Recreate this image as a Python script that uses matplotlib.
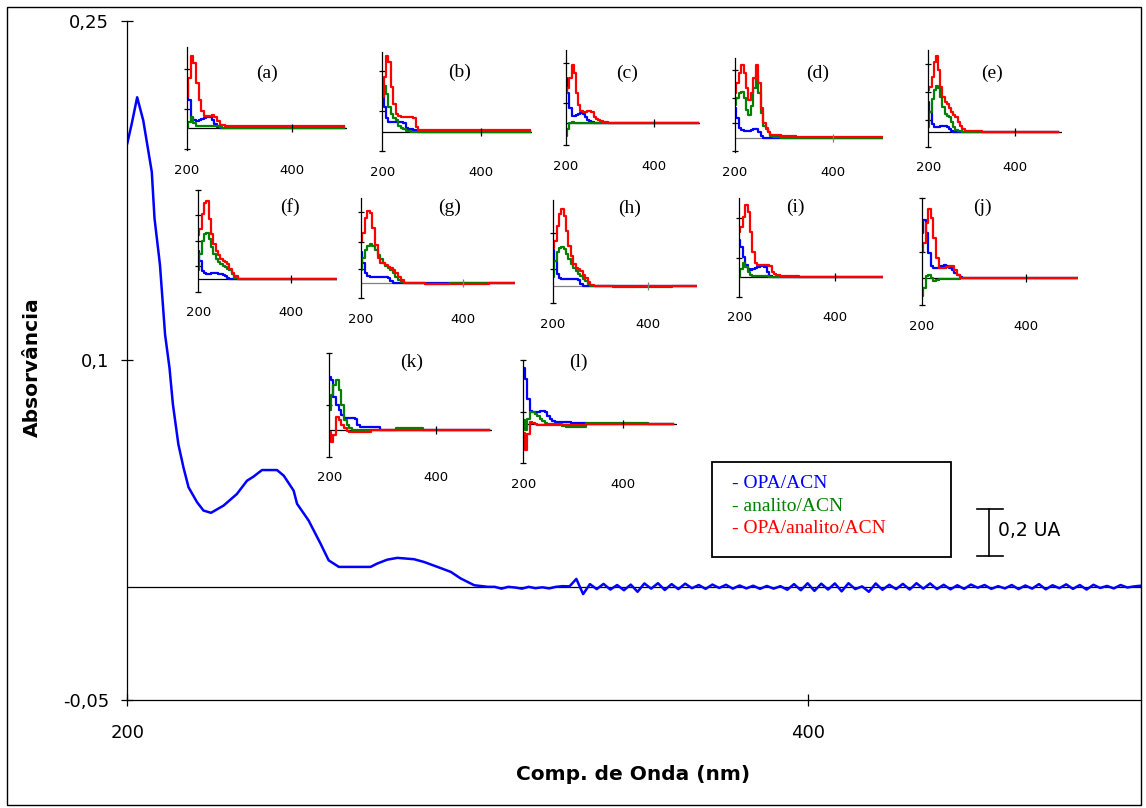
import numpy as np
import matplotlib.pyplot as plt
from matplotlib.patches import Rectangle
from matplotlib.lines import Line2D

plt.rcParams['font.family'] = 'DejaVu Sans'

# ---------------- espectro principal (OPA/ACN) ----------------
wl_main = [200, 201.3, 202.9, 204.7, 207.2, 208.0, 209.6, 211.1, 212.4, 213.4,
           215.0, 216.5, 218.0, 220.5, 222.4, 224.6, 228.3, 232.2, 235.2, 237.1,
           239.6, 244.0, 246.0, 248.9, 249.9, 253.3, 256.8, 259.2, 262.2, 271.5,
           273.5, 276.4, 279.4, 284.3, 287.2, 291.2, 295.1, 298.0, 302.0, 306.0]
abs_main = [0.196, 0.2046, 0.2163, 0.206, 0.1833, 0.1628, 0.1423, 0.1115, 0.0968, 0.0807,
            0.0631, 0.0528, 0.044, 0.0374, 0.0337, 0.0327, 0.0359, 0.041, 0.0469, 0.0487,
            0.0516, 0.0516, 0.0491, 0.0425, 0.0367, 0.0293, 0.0191, 0.0117, 0.0088, 0.0088,
            0.0103, 0.012, 0.0128, 0.0122, 0.011, 0.0088, 0.0066, 0.0037, 0.0007, 0.0]

# ruido da linha de base (mUA), de 308 a 498 nm
wl_ruido = np.arange(308, 499, 2)
ruido_mUA = [0, -0.8, 0, -0.3, -0.8, 0, -0.6, -0.2, -0.7, 0, 0.3, 0.2,
             3.5, -3.2, 1.2, -1.0, 1.3, -1.2, 0.8, -1.5, 1.0, -2.2, 1.5, -0.8,
             1.6, -1.4, 1.2, -1.0, 1.4, -0.6, 0.8, -0.9, 1.0, -0.5, 0.9, -0.8,
             0.6, -0.7, 0.5, -0.9, 0.4, -0.8, 0.3, -1.3, 1.2, -1.5, 1.6, -1.8,
             1.4, -1.2, 1.5, -2.0, 1.6, -1.0, 0.2, -2.2, 1.5, -1.3, 0.9, -1.0,
             1.3, -1.2, 1.6, -0.8, 1.5, -1.0, 0.9, -1.1, 0.7, -0.9, 1.0, -0.4,
             0.8, -0.9, 0.3, -0.7, 0.8, -1.0, 0.6, -0.8, 1.2, -1.1, 0.7, -0.6,
             1.1, -0.9, 0.8, -1.2, 0.9, -0.5, 0.4, -0.7, 0.8, -0.3, 0.2, 0.5]

# ---------------- espectros dos insertos (unidades relativas) ----------------
grade = [200, 205, 210, 215, 220, 225, 230, 235, 240, 245, 250,
         255, 260, 265, 270, 275, 280, 290, 300, 350, 400, 500]

a_azul = [45, 28, 10, 8, 7, 8, 9, 10, 11, 11, 8, 4, 1, 0.5, 0.5, 0.5, 0.5, 0.5, 0.5, 0, 0, 0]
a_verde = [0, 6, 11, 5, 2, 2, 2, 2, 2, 2, 2, 2, 2, 1, 0, 0, 0, 0, 0, 0, 0, 0]
a_verm = [31, 50, 72, 65, 45, 28, 17, 12, 12, 12, 13, 11, 7, 3, 3, 2, 2, 2, 2, 2, 2, 2]

b_azul = [45, 25, 14, 10, 10, 10, 10, 10, 10, 9, 4, 3, 3, 2, 1, 0, 0, 0, 0, 0, 0, 0]
b_verde = [40, 46, 38, 25, 18, 14, 12, 6, 4, 3, 1, 0.5, 0, 0, 0, 0, 0, 0, 0, 0, 0, 0]
b_verm = [35, 55, 76, 70, 45, 28, 18, 16, 15, 15, 15, 15, 15, 14, 5, 2, 1.5, 1.5, 1.5, 1.5, 1.5, 1.5]

c_azul = [45, 30, 15, 7, 7, 8, 9, 10, 9, 6, 3, 2, 1, 0, 0, 0, 0, 0, 0, 0, 0, 0]
c_verde = [-13, -6, 0, 1.6, 0.5, 0.5, 0.5, 0.5, 0.5, 0.5, 0.5, 0, 0, 0, 0, 0, 0, 0, 0, 0, 0, 0]
c_verm = [30, 35, 45, 58, 50, 30, 18, 12, 11, 11, 12, 12.6, 11, 6, 4, 3, 2, 1, 0.5, 0, 0, 0]

d_azul = [30, 20, 10, 8, 7, 7, 7, 8, 9, 9, 6, 2, 0, 0, 0, 0, 0, 0, 0, 0, 0, 0]
d_verde = [33, 40, 45, 46, 40, 28, 23, 32, 50, 63, 45, 25, 12, 9, 6, 2, 1, 1, 0, 0, 0, 0]
d_verm = [45, 55, 65, 73, 65, 50, 38, 45, 60, 73, 55, 30, 15, 10, 6, 3, 3, 3, 2, 1, 1, 1]

e_azul = [30, 20, 8, 5, 5, 5, 6, 6, 6, 5, 3, 1, 0, 0, 0, 0, 0, 0, 0, 0, 0, 0]
e_verde = [5, 20, 33, 42, 46, 44, 35, 25, 18, 16, 15, 10, 5, 2, 1, 0.5, 0, 0, 0, 0, 0, 0]
e_verm = [42, 45, 55, 70, 76, 62, 45, 35, 30, 28, 24, 20, 17, 15, 10, 6, 3, 1, 0.5, 0, 0, 0]

f_azul = [28, 18, 8, 6, 5, 5, 6, 6, 6, 5, 5, 4, 3, 1, 0.5, 0, 0, 0, 0, 0, 0, 0]
f_verde = [9, 25, 38, 45, 46, 40, 32, 25, 20, 17, 15, 13, 12, 10, 9, 5, 1, 0, 0, 0, 0, 0]
f_verm = [44, 50, 65, 76, 78, 60, 45, 35, 28, 24, 20, 18, 17, 15, 10, 6, 3, 0.5, 0, 0, 0, 0]

g_azul = [31, 20, 10, 7, 6, 6, 6, 6, 6, 6, 6, 5, 2, 0.5, 0, 0, 0, 0, 0, 0, 0, 0]
g_verde = [13, 25, 33, 37, 39, 37, 33, 28, 24, 20, 17, 15, 13, 10, 6, 3, 1, 0, 0, -1, 0, 0]
g_verm = [42, 50, 65, 72, 70, 55, 38, 25, 20, 20, 18, 16, 15, 13, 10, 6, 3, 0, 0, -1, -1, 0]

h_azul = [36, 25, 12, 8, 7, 7, 7, 7, 7, 7, 7, 6, 2, 0.5, 0, 0, 0, 0, 0, 0, 0, 0]
h_verde = [9, 25, 34, 38, 39, 37, 32, 27, 22, 18, 15, 12, 10, 7, 5, 2, 0.5, 0, 0, 0, -1, 0]
h_verm = [38, 45, 60, 72, 77, 70, 55, 40, 30, 22, 18, 17, 15, 11, 8, 4, 1, 0, 0, -1, 0, 0]

i_azul = [37, 30, 20, 12, 8, 7, 8, 9, 10, 11, 11, 10, 5, 1, 0, 0, 0, 0, 0, 0, 0, 0]
i_verde = [0, 8, 14, 10, 5, 2, 1, 1, 1, 1, 1, 1, 1, 0.5, 0, 0, 0, 0, 0, 0, 0, 0]
i_verm = [45, 50, 60, 72, 65, 45, 25, 14, 12, 12, 12, 12, 12, 11, 5, 3, 2, 1, 1, 0, 0, 0]

j_azul = [45, 58, 45, 25, 12, 10, 10, 11, 12, 13, 12, 10, 8, 5, 3, 1, 0, 0, 0, 0, 0, 0]
j_verde = [-18, -10, 2, 3, 0, -3, -2, -1, -1, -1, -1, -1, -1, -1, -1, 0, 0, 0, 0, 0, 0, 0]
j_verm = [26, 35, 55, 69, 60, 40, 20, 10, 10, 10, 11, 12, 12, 8, 3, 0.5, 0, 0, 0, 0, 0, 0]

k_azul = [53, 50, 33, 25, 20, 15, 12, 12, 12, 12, 11, 5, 3, 3, 3, 3, 3, 3, 0, 0, 0, 0]
k_verde = [20, 35, 45, 50, 40, 25, 10, 5, 2, 0.5, 0, 0, 0, 0, 0, 0, 0, 0, 0, 2, 0, 0]
k_verm = [-2, -12, -5, 13, 10, 5, 2, -1, -1.7, -1.7, -1.7, -1.7, -1.7, -1.7, -1.7, -1.7, 0, 0, 0, 0, 0, 0]

l_azul = [56, 45, 25, 13, 12, 12, 12, 13, 13, 12, 8, 5, 3, 2, 2, 2, 2, 2, 1, 0, 0, 0]
l_verde = [4, -6, 5, 12, 12, 10, 8, 5, 3, 1, 0, 0, 0, 0, 0, 0, -2, -3, -3, 1, 1, 0]
l_verm = [-9, -26, -10, 2, 1, 0, -1, -1, -1, -1, -1, -1, -1, -1, -1, -1, -1, -1, -1, 0, 0, 0]

series = {
    'a': (a_azul, a_verde, a_verm), 'b': (b_azul, b_verde, b_verm),
    'c': (c_azul, c_verde, c_verm), 'd': (d_azul, d_verde, d_verm),
    'e': (e_azul, e_verde, e_verm), 'f': (f_azul, f_verde, f_verm),
    'g': (g_azul, g_verde, g_verm), 'h': (h_azul, h_verde, h_verm),
    'i': (i_azul, i_verde, i_verm), 'j': (j_azul, j_verde, j_verm),
    'k': (k_azul, k_verde, k_verm), 'l': (l_azul, l_verde, l_verm),
}

# posicao dos insertos em pixels: x200, topo, base, zero, x400, direita, titulo(x, y), ticks y
layout = {
    'a': (186.7, 47, 150, 128.3, 291.7, 347, (266.7, 73), [59, 19.3, -20.7]),
    'b': (382.3, 51.7, 151, 131.7, 481, 532, (460, 72), [61, 20.7, -19.3]),
    'c': (566, 50, 145, 123.3, 654, 700, (626.7, 73), [60.6, 20.6, -21.7]),
    'd': (735, 58.3, 151.7, 138.3, 832.7, 883, (818, 73), [68, 40, 15, -13]),
    'e': (928.3, 50, 146.7, 131.7, 1015, 1061.7, (992, 73), [67.7, 40, 11.7, -15]),
    'f': (198.3, 190, 291.7, 279.3, 290.7, 336.7, (290, 207), [89.3, 64.3, 38.3, 13.3, -12.4]),
    'g': (361, 198.3, 298.3, 283.3, 463, 515, (450, 207), [71.6, 41.6, 14, -15]),
    'h': (553, 200, 303.3, 286, 648.3, 696.7, (630, 208), [52.7, 16.7, -17.3]),
    'i': (739.3, 198.3, 296.7, 277.3, 835, 883.3, (795, 207), [59, 19, -19.4]),
    'j': (921.7, 198.3, 305, 278.3, 1026, 1078.3, (982, 207), [80, 26.6, -26.7]),
    'k': (329.3, 353.3, 456.7, 430, 436, 491.7, (411.7, 362), [76.7, 25, -26.7]),
    'l': (523.3, 360, 463.3, 424, 623.3, 676.7, (578.3, 362), [64, 12.3, -39.3]),
}

W, H = 1146, 808
fig = plt.figure(figsize=(W / 100, H / 100), dpi=100)


def fx(x):
    return x / W


def fy(y):
    return 1 - y / H


# moldura externa
fig.patches.append(Rectangle((fx(7), fy(805)), fx(1141) - fx(7), fy(7) - fy(805),
                             transform=fig.transFigure, fill=False, lw=1, color='black'))

# grafico principal
L, T, R, B = 127.3, 21, 1141, 700
ax = fig.add_axes([fx(L), fy(B), fx(R) - fx(L), fy(T) - fy(B)])
ax.patch.set_alpha(0)
wl = np.concatenate([wl_main, wl_ruido])
ab = np.concatenate([abs_main, np.array(ruido_mUA) / 1000])
ax.axhline(0, color='black', lw=0.9)
ax.plot(wl, ab, color='#0000FF', lw=1.8)
ax.set_xlim(200, 498)
ax.set_ylim(-0.05, 0.25)
ax.set_yticks([-0.05, 0.1, 0.25])
ax.set_yticklabels(['-0,05', '0,1', '0,25'])
ax.set_xticks([200, 400])
ax.set_xticklabels(['200', '400'])
ax.spines[['top', 'right']].set_visible(False)
ax.spines[['left', 'bottom']].set_linewidth(0.9)
ax.tick_params(axis='y', direction='inout', length=8, width=0.9, labelsize=13, pad=9)
ax.tick_params(axis='x', direction='inout', length=8, width=0.9, labelsize=13, pad=13)

fig.text(fx(32.5), fy(367), 'Absorvância', rotation=90, ha='center', va='center',
         fontsize=14.5, fontweight='bold')
fig.text(fx(633), fy(775), 'Comp. de Onda (nm)', ha='center', va='center',
         fontsize=14.5, fontweight='bold')

# insertos
cores = ['#0000FF', '#008000', '#FF0000']
for nome, (x0, yt, yb, yz, x4, x1, (tx, ty), yt_px) in layout.items():
    axi = fig.add_axes([fx(x0), fy(yb), fx(x1) - fx(x0), fy(yt) - fy(yb)])
    axi.patch.set_alpha(0)
    base_cor = '#808080' if nome in 'dgh' else 'black'
    axi.axhline(0, color=base_cor, lw=0.9)
    for s, c in zip(series[nome], cores):
        axi.plot(grade, s, color=c, lw=1.6, drawstyle='steps-mid')
    axi.set_xlim(200, 200 + 200 * (x1 - x0) / (x4 - x0))
    axi.set_ylim(-(yb - yz), yz - yt)
    axi.spines[['top', 'right', 'bottom']].set_visible(False)
    axi.spines['left'].set_linewidth(0.9)
    axi.set_xticks([400])
    axi.set_xticklabels([])
    axi.set_yticks(yt_px)
    axi.set_yticklabels([])
    axi.tick_params(direction='inout', length=5, width=0.9)
    axi.xaxis.set_ticks_position('none')
    axi.plot([400], [0], marker='|', color=base_cor, ms=6, mew=0.9)
    trans = axi.get_xaxis_transform()
    for v in (200, 400):
        axi.text(v, -21 / (yb - yt), str(v), transform=trans, ha='center', va='center',
                 fontsize=9.5)
    fig.text(fx(tx), fy(ty), '(' + nome + ')', ha='center', va='center',
             family='Liberation Serif', fontsize=14)

# legenda
fig.patches.append(Rectangle((fx(711.7), fy(557.3)), fx(950.7) - fx(711.7), fy(461.7) - fy(557.3),
                             transform=fig.transFigure, fill=False, lw=1.3, color='black'))
legenda = ['- OPA/ACN', '- analito/ACN', '- OPA/analito/ACN']
for k, (txt, c) in enumerate(zip(legenda, cores)):
    fig.text(fx(731.7), fy(483.3 + 22.8 * k), txt, color=c, ha='left', va='center',
             family='Liberation Serif', fontsize=14)

# barra de escala 0,2 UA
for xs, ys in [((989.3, 989.3), (509.3, 556)), ((976.7, 1003.3), (509.3, 509.3)),
               ((976.7, 1003.3), (556, 556))]:
    fig.lines.append(Line2D([fx(x) for x in xs], [fy(y) for y in ys],
                            transform=fig.transFigure, color='black', lw=1.2))
fig.text(fx(998), fy(531), '0,2 UA', ha='left', va='center', fontsize=13.5)

fig.savefig('out.png', dpi=100)
